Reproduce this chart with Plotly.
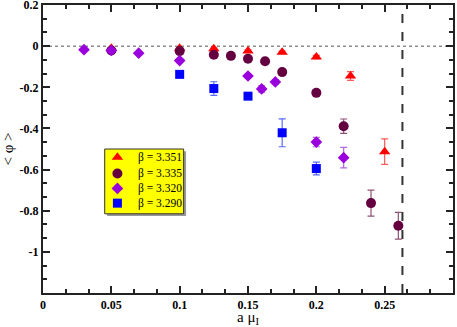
import plotly.graph_objects as go

labels = ["β = 3.351", "β = 3.335", "β = 3.320", "β = 3.290"]

x351 = [0.05, 0.1, 0.125, 0.15, 0.175, 0.2, 0.225, 0.25]
y351 = [-0.010, -0.010, -0.012, -0.023, -0.030, -0.053, -0.145, -0.513]
e351 = [0.003, 0.003, 0.004, 0.005, 0.006, 0.008, 0.021, 0.062]

x335 = [0.05, 0.1, 0.125, 0.1375, 0.15, 0.1625, 0.175, 0.2, 0.22, 0.24, 0.26]
y335 = [-0.021, -0.024, -0.042, -0.047, -0.061, -0.073, -0.126, -0.227, -0.389, -0.763, -0.873]
e335 = [0.003, 0.004, 0.005, 0.005, 0.006, 0.007, 0.008, 0.012, 0.035, 0.063, 0.065]

x320 = [0.03, 0.05, 0.07, 0.1, 0.15, 0.16, 0.17, 0.2, 0.22]
y320 = [-0.017, -0.021, -0.034, -0.070, -0.145, -0.208, -0.174, -0.466, -0.542]
e320 = [0.004, 0.004, 0.005, 0.010, 0.008, 0.015, 0.010, 0.023, 0.050]

x290 = [0.1, 0.125, 0.15, 0.175, 0.2]
y290 = [-0.137, -0.206, -0.243, -0.421, -0.595]
e290 = [0.005, 0.033, 0.006, 0.068, 0.031]

x_ticks = [0, 0.05, 0.1, 0.15, 0.2, 0.25]
x_ticktext = ["0", "0.05", "0.1", "0.15", "0.2", "0.25"]
y_ticks = [0.2, 0, -0.2, -0.4, -0.6, -0.8, -1.0]
y_ticktext = ["0.2", "0", "-0.2", "-0.4", "-0.6", "-0.8", "-1"]
mu_c = 0.263

series = [
    (x351, y351, e351, "triangle-up", 10, "#ff0000", "#ff5a5a"),
    (x335, y335, e335, "circle", 10, "#650040", "#8f5075"),
    (x320, y320, e320, "diamond", 9, "#9a00dd", "#b566e6"),
    (x290, y290, e290, "square", 9, "#0000ff", "#5a6aff"),
]

fig = go.Figure()
for (xs, ys, es, sym, sz, col, ecol), lab in zip(series, labels):
    fig.add_trace(go.Scatter(
        x=xs, y=ys, mode="markers", name=lab, showlegend=False,
        marker=dict(symbol=sym, size=sz, color=col, line=dict(width=0)),
        error_y=dict(type="data", array=es, color=ecol, thickness=1.2, width=3.5),
    ))

# hand-made legend box (compact rows like the original)
lx0, lx1, ly0, ly1 = 0.1505, 0.343, 0.275, 0.5
fig.add_shape(type="rect", xref="paper", yref="paper", x0=lx0 + 0.006, x1=lx1 + 0.006,
              y0=ly0 - 0.008, y1=ly1 - 0.008, fillcolor="#999999", line=dict(width=0), layer="below")
fig.add_shape(type="rect", xref="paper", yref="paper", x0=lx0, x1=lx1, y0=ly0, y1=ly1,
              fillcolor="#ffff00", line=dict(color="#333333", width=1), layer="below")
row_y = [0.471, 0.415, 0.363, 0.312]
for (xs, ys, es, sym, sz, col, ecol), lab, ry in zip(series, labels, row_y):
    fig.add_trace(go.Scatter(
        x=[0.1815], y=[ry], xaxis="x2", yaxis="y2", mode="markers", showlegend=False,
        marker=dict(symbol=sym, size=sz, color=col, line=dict(width=0)), hoverinfo="skip",
    ))
    fig.add_annotation(xref="paper", yref="paper", x=0.226, y=ry, xanchor="left", yanchor="middle",
                       text=lab, showarrow=False,
                       font=dict(family="Liberation Serif", size=11.5, color="black"))

fig.add_shape(type="line", xref="x", yref="paper", x0=mu_c, x1=mu_c, y0=0, y1=1,
              line=dict(color="#333333", width=2, dash="dash"), layer="below")
fig.add_shape(type="line", xref="paper", yref="y", x0=0, x1=1, y0=0, y1=0,
              line=dict(color="#555555", width=1, dash="dot"), layer="below")

tickfont = dict(family="Liberation Serif", size=12, color="black")
axis_common = dict(showline=True, linecolor="#222222", linewidth=2, mirror="ticks",
                   ticks="inside", ticklen=7, tickwidth=1.5, tickcolor="#222222",
                   showgrid=False, zeroline=False, tickfont=tickfont, automargin=False,
                   ticklabeloverflow="allow")

fig.update_xaxes(range=[0, 0.3], tickmode="array", tickvals=x_ticks,
                 ticktext=["<b>%s</b>" % t for t in x_ticktext],
                 minor=dict(tickmode="linear", tick0=0, dtick=0.05 / 3, ticks="inside",
                            ticklen=4, tickwidth=1.5, tickcolor="#222222"),
                 title=dict(text="a μ<sub>I</sub>", font=dict(family="Liberation Serif", size=15, color="black"),
                            standoff=3),
                 **axis_common)
fig.update_yaxes(range=[-1.2, 0.2002], tickmode="array", tickvals=y_ticks,
                 ticktext=["<b>%s</b>" % t for t in y_ticktext],
                 minor=dict(tickmode="linear", tick0=0, dtick=0.2 / 3, ticks="inside",
                            ticklen=4, tickwidth=1.5, tickcolor="#222222"),
                 title=dict(text="< φ >", font=dict(family="Liberation Serif", size=15, color="black"),
                            standoff=2),
                 **axis_common)

fig.update_layout(
    width=457, height=327,
    margin=dict(l=43, r=4, t=5, b=34, autoexpand=False),
    paper_bgcolor="white", plot_bgcolor="white",
    showlegend=False,
    xaxis2=dict(overlaying="x", range=[0, 1], visible=False, fixedrange=True),
    yaxis2=dict(overlaying="y", range=[0, 1], visible=False, fixedrange=True),
)

fig.write_html("out.html", config={"displayModeBar": False},
               post_script="document.body.style.margin='0';")
